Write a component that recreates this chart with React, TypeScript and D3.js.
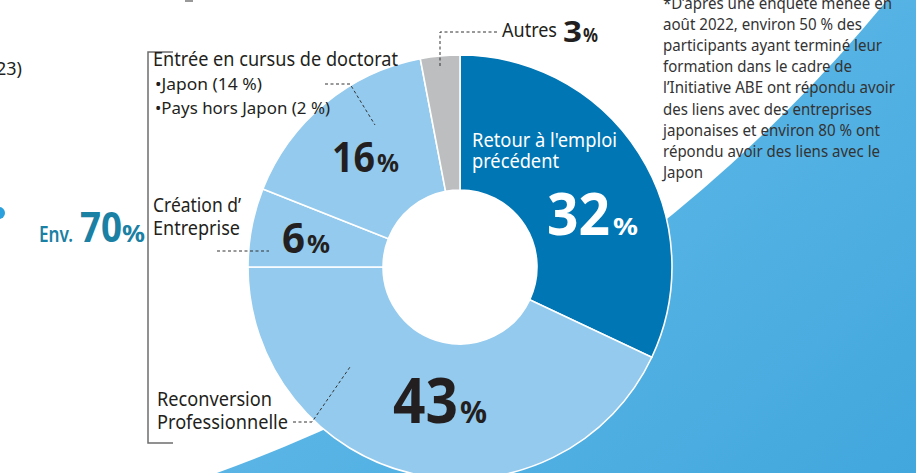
import React from "react";
import * as d3 from "d3";

const categories = [
  "Retour à l'emploi précédent",
  "Reconversion Professionnelle",
  "Création d’Entreprise",
  "Entrée en cursus de doctorat",
  "Autres",
];
const values = [32, 43, 6, 16, 3];
const sliceColors = ["#0076b4", "#93caed", "#93caed", "#93caed", "#bcbec0"];
const doctoratDetails = ["•Japon (14 %)", "•Pays hors Japon (2 %)"];
const noteLines = [
  "*D’après une enquête menée en",
  "août 2022, environ 50 % des",
  "participants ayant terminé leur",
  "formation dans le cadre de",
  "l’Initiative ABE ont répondu avoir",
  "des liens avec des entreprises",
  "japonaises et environ 80 % ont",
  "répondu avoir des liens avec le",
  "Japon",
];
const noteWidths = [229, 199, 219, 189, 232, 209, 217, 217, 40];
const totalLabel = { prefix: "Env.", value: 70 };

const FONT = "'Noto Sans', 'Open Sans', sans-serif";
const DARK = "#231f20";

type TProps = {
  x: number;
  y: number;
  size: number;
  len?: number;
  weight?: string | number;
  fill?: string;
  children: React.ReactNode;
};
function T({ x, y, size, len, weight = "normal", fill = DARK, children }: TProps) {
  return (
    <text
      x={x}
      y={y}
      fontSize={size}
      fontWeight={weight}
      fill={fill}
      fontFamily={FONT}
      textLength={len}
      lengthAdjust={len ? "spacingAndGlyphs" : undefined}
    >
      {children}
    </text>
  );
}

export default function App() {
  const W = 916;
  const H = 473;
  const cx = 460;
  const cy = 267;
  const outerR = 212;
  const innerR = 77;

  const pie = d3
    .pie<number>()
    .sort(null)
    .startAngle(0)
    .endAngle(2 * Math.PI);
  const arcs = pie(values);
  const arcGen = d3
    .arc<d3.PieArcDatum<number>>()
    .innerRadius(innerR)
    .outerRadius(outerR);

  const dash = { stroke: "#333", strokeWidth: 1, strokeDasharray: "3,2.5", fill: "none" };

  return (
    <svg
      width={W}
      height={H}
      viewBox={`0 0 ${W} ${H}`}
      style={{ position: "absolute", left: 0, top: 0, background: "#fff" }}
    >
      <defs>
        <linearGradient id="bg" x1="600" y1="100" x2="916" y2="473" gradientUnits="userSpaceOnUse">
          <stop offset="0" stopColor="#5cb6e6" />
          <stop offset="1" stopColor="#41a7dd" />
        </linearGradient>
      </defs>
      <rect x={0} y={0} width={W} height={H} fill="url(#bg)" />
      <circle cx={-307} cy={-981} r={1545.5} fill="#fff" />

      {/* top clipped mark */}
      <rect x={185} y={0} width={8} height={2} fill="#999" />

      {/* left fragments */}
      <T x={-4} y={75} size={18}>23)</T>
      <circle cx={-1} cy={213} r={6} fill="#2aa0dc" />

      {/* donut */}
      <g transform={`translate(${cx},${cy})`}>
        {arcs.map((a, i) => (
          <path
            key={categories[i]}
            d={arcGen(a) || ""}
            fill={sliceColors[i]}
            stroke="#fff"
            strokeWidth={1.6}
          />
        ))}
      </g>

      {/* Env. 70% */}
      <T x={39} y={242} size={21} len={34} weight={600} fill="#1a80a4">
        {totalLabel.prefix}
      </T>
      <T x={80} y={242} size={42} len={42} weight="bold" fill="#1a80a4">
        {String(totalLabel.value)}
      </T>
      <T x={122} y={242} size={24} len={23} weight="bold" fill="#1a80a4">%</T>

      {/* bracket */}
      <path d="M173,52 H148 V443 H173" fill="none" stroke="#6d6d6d" strokeWidth={1.5} />

      {/* Doctorat label */}
      <T x={153} y={66} size={20} len={245}>{categories[3]}</T>
      <T x={155} y={90} size={17} len={107}>{doctoratDetails[0]}</T>
      <T x={155} y={114} size={17} len={175}>{doctoratDetails[1]}</T>
      <path d="M325,84 H350 L375,125" {...dash} />

      {/* Création */}
      <T x={153} y={212} size={19} len={88}>Création d’</T>
      <T x={153} y={235} size={19} len={87}>Entreprise</T>
      <path d="M217,251 H269" {...dash} />

      {/* Reconversion */}
      <T x={157} y={406} size={19} len={115}>Reconversion</T>
      <T x={157} y={429} size={19} len={131}>Professionnelle</T>
      <path d="M293,422 H312 L350,367" {...dash} />

      {/* Autres */}
      <T x={502} y={37} size={19} len={55}>Autres</T>
      <T x={563} y={42} size={29} len={19} weight="bold">{String(values[4])}</T>
      <T x={583} y={42} size={19} len={15} weight="bold">%</T>
      <path d="M497,32 H440 V68" {...dash} />

      {/* Retour label */}
      <T x={472} y={147} size={19} len={145} fill="#fff">Retour à l'emploi</T>
      <T x={472} y={168} size={19} len={87} fill="#fff">précédent</T>
      <T x={547} y={235} size={60} len={63} weight="bold" fill="#fff">{String(values[0])}</T>
      <T x={613} y={235} size={24} len={25} weight="bold" fill="#fff">%</T>

      {/* 43% */}
      <T x={393} y={423} size={62} len={65} weight="bold">{String(values[1])}</T>
      <T x={460} y={423} size={31} len={27} weight="bold">%</T>

      {/* 16% */}
      <T x={332} y={172} size={42} len={43} weight="bold">{String(values[3])}</T>
      <T x={377} y={172} size={25} len={22} weight="bold">%</T>

      {/* 6% */}
      <T x={282} y={253} size={42} len={23} weight="bold">{String(values[2])}</T>
      <T x={307} y={253} size={25} len={23} weight="bold">%</T>

      {/* Note */}
      {noteLines.map((line, i) => (
        <T key={i} x={663} y={9 + i * 21.1} size={16.5} len={noteWidths[i]} fill="#333">
          {line}
        </T>
      ))}
    </svg>
  );
}
